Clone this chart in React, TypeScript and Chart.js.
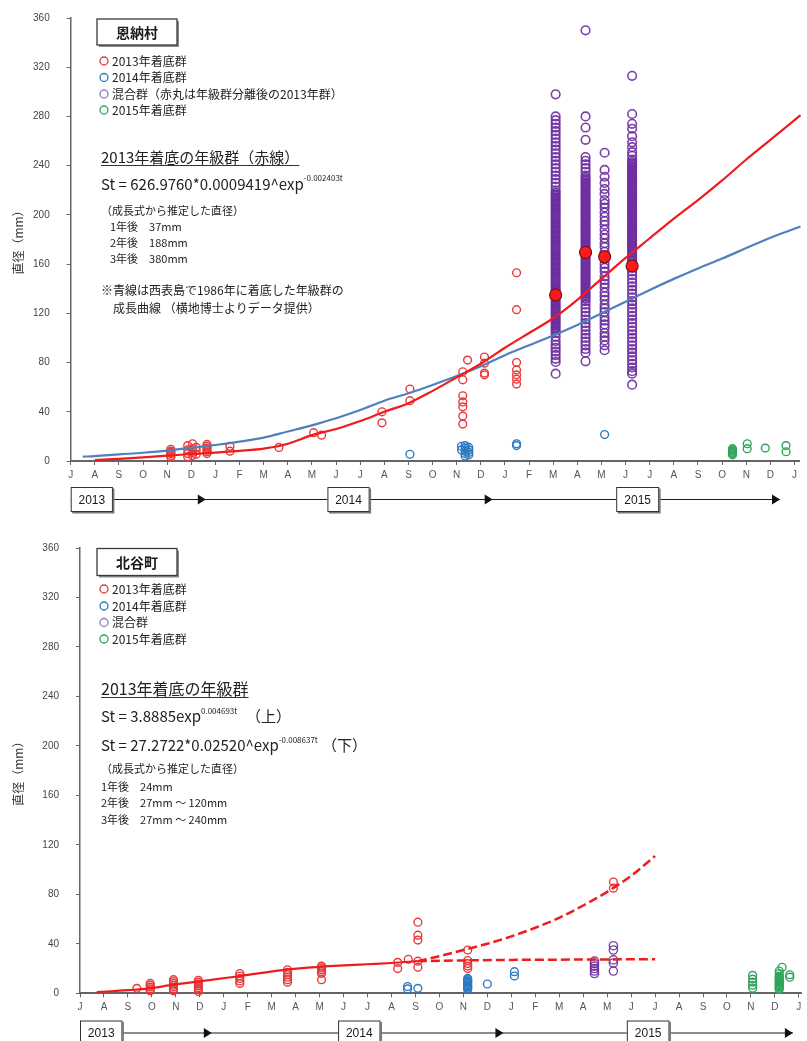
import { useEffect, useRef } from 'react';
import { Chart, registerables } from 'chart.js';

Chart.register(...registerables);

const JP = '"Noto Sans CJK JP", "Noto Sans", sans-serif';
const LAT = '"Liberation Sans", Arial, sans-serif';

// ---------- shared axis labels ----------
const MONTHS = ['J', 'A', 'S', 'O', 'N', 'D', 'J', 'F', 'M', 'A', 'M', 'J', 'J', 'A', 'S', 'O', 'N', 'D', 'J', 'F', 'M', 'A', 'M', 'J', 'J', 'A', 'S', 'O', 'N', 'D', 'J'];
const Y_TICKS = [0, 40, 80, 120, 160, 200, 240, 280, 320, 360];
const YEARS = ['2013', '2014', '2015'];

type Group = [number, number[]];

// ---------- 恩納村 (top) ----------  x = months since Jul 2013
const onnaRedCurveX = [1, 2, 3, 4, 5, 6, 7, 8, 9, 10, 11, 12, 13, 14, 15, 16, 17, 18, 19, 20, 21, 22, 23, 24, 25, 26, 27, 28, 29, 30, 30.25];
const onnaRedCurveY = [0.8, 1.8, 3, 4.3, 5.7, 6.8, 8.2, 10, 14, 21, 26, 32.5, 40, 47, 57, 68, 79, 92, 104, 116, 131, 148, 165, 181, 197, 212, 228, 245, 261, 277, 281];
const onnaBlueCurveX = [0.5, 1, 2, 3, 4, 5, 6, 7, 8, 9, 10, 11, 12, 13, 14, 15, 16, 17, 18, 19, 20, 21, 22, 23, 24, 25, 26, 27, 28, 29, 30.25];
const onnaBlueCurveY = [3.5, 4, 5.4, 6.7, 8.4, 10.8, 13, 15.7, 19, 24, 29, 34.7, 41.4, 49, 55, 61.8, 69, 77, 86, 94, 102, 110.5, 120, 129.5, 139, 148, 156.5, 164.5, 173, 181.5, 190.5];

const onna2013: Group[] = [
  [4.15, [3, 4.5, 6, 7, 8, 9.5]],
  [4.85, [3.5, 6, 9, 12.5]],
  [5.05, [4.5, 7, 10, 14]],
  [5.2, [5.5, 8.5, 11]],
  [5.65, [6, 7.5, 9, 10.5, 12, 13.5]],
  [6.6, [8, 12]],
  [8.63, [11]],
  [10.07, [23]],
  [10.4, [21]],
  [12.9, [31, 40]],
  [14.06, [49, 58.5]],
  [16.25, [30, 36.5, 44, 48, 53, 66, 72.5]],
  [16.45, [82]],
  [17.15, [70, 71.5, 79.5, 84.5]],
  [18.48, [62.5, 66.5, 70, 74, 80, 123, 153]],
];
const onna2014: Group[] = [
  [14.06, [5.5]],
  [16.2, [9, 12]],
  [16.35, [4, 6, 8, 10.5, 12.5]],
  [16.5, [5, 7, 9, 11]],
  [18.48, [12.5, 14]],
  [22.13, [21.5]],
];
const onnaMixed: Group[] = [
  [20.1, [298, 280, 277, 274, 271, 268, 265, 262, 259, 256, 253, 250, 247, 244, 241, 238, 235, 232, 229, 226, 223, 220, 218, 216, 214, 212, 210, 208, 206, 204, 202, 200, 198, 196, 194, 192, 190, 188, 186, 184, 182, 180, 178, 176, 174, 172, 170, 168, 166, 164, 162, 160, 158, 156, 154, 152, 150, 148, 146, 144, 142, 140, 138, 136, 134, 132, 130, 128, 126, 124, 122, 120, 118, 116, 114, 112, 110, 108, 106, 104, 101, 97.5, 94.5, 92, 89, 86, 83, 80.5, 71]],
  [21.34, [350, 280, 271, 261, 247, 244, 241, 238, 235, 232, 230, 228, 226, 224, 222, 220, 218, 216, 214, 212, 210, 208, 206, 204, 202, 200, 198, 196, 194, 192, 190, 188, 186, 184, 182, 180, 178, 176, 174, 172, 170, 168, 166, 164, 162, 160, 158, 156, 154, 152, 150, 148, 146, 144, 142, 140, 138, 136, 134, 132, 130, 127, 124, 121, 118, 115, 112, 109, 106, 103, 100, 97, 94, 91, 88, 81]],
  [22.13, [250.5, 236.5, 231, 226, 221, 217, 212, 209, 206, 202, 198.5, 195, 192, 188, 184, 181, 177, 174, 170, 167, 164, 160, 157, 154, 150, 147, 144, 141, 137, 134, 131, 127, 124, 121, 117, 114, 111, 108, 104, 101, 98, 94, 90]],
  [23.27, [313, 282, 274, 270, 264, 259, 255, 251, 248, 245, 243, 241, 239, 237, 235, 233, 231, 229, 227, 225, 223, 221, 219, 217, 215, 213, 211, 209, 207, 205, 203, 201, 199, 197, 195, 193, 191, 189, 187, 185, 183, 181, 179, 177, 175, 173, 171, 169, 167, 165, 163, 160, 157, 154, 151, 148, 145, 142, 139, 136, 133, 130, 127, 124, 121, 118, 115, 112, 109, 106, 103, 100, 97, 94, 91, 88, 85, 82, 79, 76, 73, 71, 62]],
];
const onnaSeparatedX = [20.1, 21.34, 22.13, 23.27];
const onnaSeparatedY = [135, 169.5, 166, 158.5];
const onna2015: Group[] = [
  [27.43, [5, 6, 7, 8, 9, 10]],
  [28.04, [10, 14]],
  [28.79, [10.5]],
  [29.65, [7.5, 12.5]],
];

// ---------- 北谷町 (bottom) ----------
const chatanSolidX = [0.7, 2, 2.9, 3.9, 4.9, 6.7, 8.7, 10.1, 11, 12, 13, 14.1];
const chatanSolidY = [1, 2.5, 4, 7, 9.4, 14, 19.4, 21.5, 22.5, 23.5, 24.5, 26];
const chatanUpperX = [14.1, 15, 16, 17, 18, 19, 20, 21, 22, 23, 24];
const chatanUpperY = [26, 30, 35, 40, 46, 53, 61, 71, 82, 95, 111];
const chatanLowerX = [14.1, 16, 18, 20, 22, 24];
const chatanLowerY = [26, 26.6, 27, 27.2, 27.4, 27.5];

const chatan2013: Group[] = [
  [2.37, [4]],
  [2.93, [2, 3.5, 5, 6.5, 8]],
  [3.9, [2, 3.5, 5, 6.5, 8, 9.5, 11]],
  [4.94, [1.5, 3, 4.5, 6, 7.5, 9, 10.5]],
  [6.67, [8, 10, 12, 14, 16]],
  [8.66, [9, 11, 13, 15, 17, 19]],
  [10.08, [11, 16, 17.5, 19, 20.5, 22]],
  [13.26, [20, 25]],
  [13.7, [27.5]],
  [14.1, [21, 26, 43, 47, 57.5]],
  [16.18, [20, 22, 24, 26.5, 35]],
  [22.26, [85, 90]],
];
const chatan2014: Group[] = [
  [13.67, [3.5, 5.5]],
  [14.1, [4]],
  [16.18, [3, 4, 5, 6, 7, 8, 9, 10, 11, 12]],
  [17.0, [7.5]],
  [18.13, [14, 17.5]],
];
const chatanMixed: Group[] = [
  [21.47, [16, 18, 20, 22, 24, 26]],
  [22.26, [18, 24.5, 27, 35, 38.5]],
];
const chatan2015: Group[] = [
  [28.07, [4, 6.5, 9, 11.5, 14.5]],
  [29.18, [3, 4, 5, 6, 7, 8, 9, 10, 11, 12, 13, 14, 16, 18]],
  [29.3, [21]],
  [29.62, [13, 15]],
];

// ---------- helpers ----------
const C = {
  red: '#e8393a',
  blue: '#2a78c2',
  purple: 'rgba(108,44,160,0.9)',
  purpleFill: 'rgba(112,48,160,0.5)',
  purpleLegend: '#8f7fbf',
  green: '#2fa55a',
  redLine: '#ee1c1c',
  blueLine: '#4f81bd',
};

const toPts = (groups: Group[]) => groups.flatMap(([x, ys]) => ys.map((y) => ({ x, y })));
const toLine = (xs: number[], ys: number[]) => xs.map((x, i) => ({ x, y: ys[i] }));

// a ring is shaded only when it sits inside a tightly packed stack (both neighbours close)
const denseFill = (fill: string, gap: number) => (c: any) => {
  const p = c.raw;
  if (!p) return 'rgba(255,255,255,0)';
  const data = c.dataset.data as { x: number; y: number }[];
  let above = false;
  let below = false;
  for (const q of data) {
    if (q === p || q.x !== p.x) continue;
    const d = q.y - p.y;
    if (d > 0 && d <= gap) above = true;
    if (d < 0 && -d <= gap) below = true;
  }
  return above && below ? fill : 'rgba(255,255,255,0)';
};

const ring = (label: string, data: any[], color: string, r = 3.9, order = 3, fill: any = 'rgba(255,255,255,0)', bw = 1.4) => ({
  type: 'scatter' as const,
  label,
  data,
  showLine: false,
  pointStyle: 'circle',
  pointRadius: r,
  pointBorderWidth: bw,
  pointBorderColor: color,
  pointBackgroundColor: fill,
  borderColor: color,
  backgroundColor: 'rgba(0,0,0,0)',
  clip: false,
  order,
});

const curve = (label: string, data: any[], color: string, width: number, dash: number[] = []) => ({
  type: 'line' as const,
  label,
  data,
  borderColor: color,
  borderWidth: width,
  borderDash: dash,
  pointRadius: 0,
  fill: false,
  cubicInterpolationMode: 'monotone',
  clip: false,
  order: 1,
});

function makeOptions(yAxisWidth: number, xMax: number, xAxisHeight: number, padTop: number) {
  return {
    responsive: false,
    animation: false,
    devicePixelRatio: 1,
    events: [],
    layout: { padding: { top: padTop, left: 0, right: 0, bottom: 0 } },
    plugins: { legend: { display: false }, tooltip: { enabled: false }, title: { display: false } },
    scales: {
      x: {
        type: 'linear',
        min: 0,
        max: xMax,
        afterBuildTicks: (s: any) => {
          s.ticks = MONTHS.map((_, i) => ({ value: i }));
        },
        afterFit: (s: any) => {
          s.height = xAxisHeight;
          s.paddingLeft = 0;
          s.paddingRight = 0;
        },
        ticks: {
          autoSkip: false,
          maxRotation: 0,
          minRotation: 0,
          padding: 4,
          color: '#555',
          font: { family: LAT, size: 10 },
          callback: (v: number) => MONTHS[Math.round(v)] ?? '',
        },
        grid: { drawOnChartArea: false, drawTicks: true, tickLength: 4, color: '#666', lineWidth: 1 },
        border: { display: true, color: '#666', width: 2 },
      },
      y: {
        type: 'linear',
        min: 0,
        max: 360,
        afterBuildTicks: (s: any) => {
          s.ticks = Y_TICKS.map((v) => ({ value: v }));
        },
        afterFit: (s: any) => {
          s.width = yAxisWidth;
          s.paddingTop = 0;
          s.paddingBottom = 0;
        },
        ticks: { padding: 17, color: '#444', font: { family: LAT, size: 10 } },
        grid: { drawOnChartArea: false, drawTicks: true, tickLength: 4, color: '#666' },
        border: { display: true, color: '#666', width: 1.5 },
        title: {
          display: true,
          text: '直径（mm）',
          color: '#333',
          font: { family: JP, size: 12 },
          padding: { top: 11, bottom: 0 },
        },
      },
    },
  };
}

type Part = { t: string; size: number; dy?: number; weight?: string };

function rich(ctx: CanvasRenderingContext2D, x: number, y: number, parts: Part[], color = '#222') {
  ctx.fillStyle = color;
  ctx.textAlign = 'left';
  ctx.textBaseline = 'middle';
  let cx = x;
  for (const p of parts) {
    ctx.font = `${p.weight || 'normal'} ${p.size}px ${JP}`;
    ctx.fillText(p.t, cx, y + (p.dy || 0));
    cx += ctx.measureText(p.t).width;
  }
  return cx;
}

function titleBox(ctx: CanvasRenderingContext2D, x: number, y: number, w: number, h: number, text: string) {
  ctx.fillStyle = '#8a8a8a';
  ctx.fillRect(x + 2, y + 2, w, h);
  ctx.fillStyle = '#fff';
  ctx.fillRect(x, y, w, h);
  ctx.strokeStyle = '#3a3a3a';
  ctx.lineWidth = 1.3;
  ctx.strokeRect(x, y, w, h);
  ctx.fillStyle = '#1a1a1a';
  ctx.font = `bold 14px ${JP}`;
  ctx.textAlign = 'center';
  ctx.textBaseline = 'middle';
  ctx.fillText(text, x + w / 2, y + h / 2 + 0.5);
}

function legend(ctx: CanvasRenderingContext2D, items: { color: string; text: string; y: number }[]) {
  for (const it of items) {
    ctx.beginPath();
    ctx.arc(104, it.y, 4, 0, Math.PI * 2);
    ctx.strokeStyle = it.color;
    ctx.lineWidth = 1.3;
    ctx.stroke();
    rich(ctx, 112, it.y, [{ t: it.text, size: 12 }], '#222');
  }
}

function yearBar(chart: any, yc: number, boxes: [number, number][], tips: number[]) {
  const ctx: CanvasRenderingContext2D = chart.ctx;
  const xs = chart.scales.x;
  const px = (m: number) => xs.getPixelForValue(m);
  const h = 25;
  ctx.strokeStyle = '#1a1a1a';
  ctx.lineWidth = 1.2;
  ctx.beginPath();
  ctx.moveTo(px(boxes[0][0]), yc);
  ctx.lineTo(px(tips[tips.length - 1]), yc);
  ctx.stroke();
  ctx.fillStyle = '#111';
  for (const t of tips) {
    const tx = px(t);
    ctx.beginPath();
    ctx.moveTo(tx, yc);
    ctx.lineTo(tx - 8, yc - 5);
    ctx.lineTo(tx - 8, yc + 5);
    ctx.closePath();
    ctx.fill();
  }
  boxes.forEach(([a, b], i) => {
    const x0 = px(a);
    const x1 = px(b);
    ctx.fillStyle = '#777';
    ctx.fillRect(x0 + 1.5, yc - h / 2 + 1.5, x1 - x0, h);
    ctx.fillStyle = '#fff';
    ctx.fillRect(x0, yc - h / 2, x1 - x0, h);
    ctx.strokeStyle = '#333';
    ctx.lineWidth = 1;
    ctx.strokeRect(x0 + 0.5, yc - h / 2 + 0.5, x1 - x0 - 1, h - 1);
    ctx.fillStyle = '#1a1a1a';
    ctx.font = `12px ${LAT}`;
    ctx.textAlign = 'center';
    ctx.textBaseline = 'middle';
    ctx.fillText(YEARS[i], (x0 + x1) / 2, yc + 1);
  });
}

const onnaOverlay = {
  id: 'onnaOverlay',
  afterDraw(chart: any) {
    const ctx: CanvasRenderingContext2D = chart.ctx;
    ctx.save();
    titleBox(ctx, 97, 19, 80, 26, '恩納村');
    legend(ctx, [
      { color: C.red, text: '2013年着底群', y: 61 },
      { color: C.blue, text: '2014年着底群', y: 77.5 },
      { color: C.purpleLegend, text: '混合群（赤丸は年級群分離後の2013年群）', y: 94 },
      { color: C.green, text: '2015年着底群', y: 110 },
    ]);
    const endH = rich(ctx, 101, 157, [{ t: '2013年着底の年級群（赤線）', size: 15 }]);
    ctx.strokeStyle = '#333';
    ctx.lineWidth = 1;
    ctx.beginPath();
    ctx.moveTo(101, 165.5);
    ctx.lineTo(endH, 165.5);
    ctx.stroke();
    rich(ctx, 101, 184, [
      { t: 'St = 626.9760*0.0009419^exp', size: 15 },
      { t: '-0.002403t', size: 8, dy: -6 },
    ]);
    rich(ctx, 101, 211, [{ t: '（成長式から推定した直径）', size: 11 }]);
    rich(ctx, 110, 227, [{ t: '1年後　37mm', size: 11 }]);
    rich(ctx, 110, 243, [{ t: '2年後　188mm', size: 11 }]);
    rich(ctx, 110, 259, [{ t: '3年後　380mm', size: 11 }]);
    rich(ctx, 101, 290, [{ t: '※青線は西表島で1986年に着底した年級群の', size: 12 }]);
    rich(ctx, 113, 308, [{ t: '成長曲線 （横地博士よりデータ提供）', size: 12 }]);
    yearBar(chart, 499.5, [[0, 1.75], [10.64, 12.39], [22.61, 24.39]], [5.6, 17.49, 29.4]);
    ctx.restore();
  },
};

const chatanOverlay = {
  id: 'chatanOverlay',
  afterDraw(chart: any) {
    const ctx: CanvasRenderingContext2D = chart.ctx;
    ctx.save();
    titleBox(ctx, 97, 28.5, 80, 27, '北谷町');
    legend(ctx, [
      { color: C.red, text: '2013年着底群', y: 69 },
      { color: C.blue, text: '2014年着底群', y: 86 },
      { color: C.purpleLegend, text: '混合群', y: 102.5 },
      { color: C.green, text: '2015年着底群', y: 119 },
    ]);
    const endH = rich(ctx, 101, 169, [{ t: '2013年着底の年級群', size: 16 }]);
    ctx.strokeStyle = '#333';
    ctx.lineWidth = 1;
    ctx.beginPath();
    ctx.moveTo(101, 177.5);
    ctx.lineTo(endH, 177.5);
    ctx.stroke();
    rich(ctx, 101, 196.7, [
      { t: 'St = 3.8885exp', size: 15 },
      { t: '0.004693t', size: 8, dy: -6 },
    ]);
    rich(ctx, 246, 196.7, [{ t: '（上）', size: 15 }]);
    rich(ctx, 101, 225.7, [
      { t: 'St = 27.2722*0.02520^exp', size: 15 },
      { t: '-0.008637t', size: 8, dy: -6 },
    ]);
    rich(ctx, 322, 225.7, [{ t: '（下）', size: 15 }]);
    rich(ctx, 101, 249, [{ t: '（成長式から推定した直径）', size: 11 }]);
    rich(ctx, 101, 266.7, [{ t: '1年後　24mm', size: 11 }]);
    rich(ctx, 101, 283.3, [{ t: '2年後　27mm ～ 120mm', size: 11 }]);
    rich(ctx, 101, 300, [{ t: '3年後　27mm ～ 240mm', size: 11 }]);
    yearBar(chart, 513, [[0, 1.77], [10.77, 12.54], [22.82, 24.6]], [5.5, 17.67, 29.75]);
    ctx.restore();
  },
};

export default function App() {
  const topRef = useRef<HTMLCanvasElement>(null);
  const botRef = useRef<HTMLCanvasElement>(null);

  useEffect(() => {
    const top = new Chart(topRef.current as HTMLCanvasElement, {
      type: 'scatter',
      data: {
        datasets: [
          {
            type: 'scatter',
            label: '2013年群（分離後）',
            data: toLine(onnaSeparatedX, onnaSeparatedY),
            pointStyle: 'circle',
            pointRadius: 6,
            pointBorderWidth: 1.2,
            pointBorderColor: '#7a1212',
            pointBackgroundColor: '#ff1a1a',
            clip: false,
            order: 0,
          },
          curve('2013年着底の年級群（赤線）', toLine(onnaRedCurveX, onnaRedCurveY), C.redLine, 2.2),
          curve('西表島1986年群', toLine(onnaBlueCurveX, onnaBlueCurveY), C.blueLine, 2.2),
          ring('2013年着底群', toPts(onna2013), C.red),
          ring('2014年着底群', toPts(onna2014), C.blue),
          ring('混合群', toPts(onnaMixed), C.purple, 4.3, 4, denseFill(C.purpleFill, 2.6), 1.6),
          ring('2015年着底群', toPts(onna2015), C.green),
        ] as any,
      },
      options: makeOptions(70.7, 30.22, 59, 18) as any,
      plugins: [onnaOverlay],
    });

    const bot = new Chart(botRef.current as HTMLCanvasElement, {
      type: 'scatter',
      data: {
        datasets: [
          curve('2013年着底の年級群', toLine(chatanSolidX, chatanSolidY), C.redLine, 2.2),
          curve('上', toLine(chatanUpperX, chatanUpperY), C.redLine, 2.5, [9, 4]),
          curve('下', toLine(chatanLowerX, chatanLowerY), C.redLine, 2.5, [9, 4]),
          ring('2013年着底群', toPts(chatan2013), C.red),
          ring('2014年着底群', toPts(chatan2014), C.blue),
          ring('混合群', toPts(chatanMixed), C.purple, 4.1),
          ring('2015年着底群', toPts(chatan2015), C.green),
        ] as any,
      },
      options: makeOptions(80, 30.11, 47.7, 28) as any,
      plugins: [chatanOverlay],
    });

    return () => {
      top.destroy();
      bot.destroy();
    };
  }, []);

  return (
    <div style={{ position: 'absolute', left: 0, top: 0, width: 807, height: 1041, background: '#fff', overflow: 'hidden' }}>
      <canvas ref={topRef} width={807} height={520} style={{ display: 'block', width: 807, height: 520 }} />
      <canvas ref={botRef} width={807} height={521} style={{ display: 'block', width: 807, height: 521 }} />
    </div>
  );
}
